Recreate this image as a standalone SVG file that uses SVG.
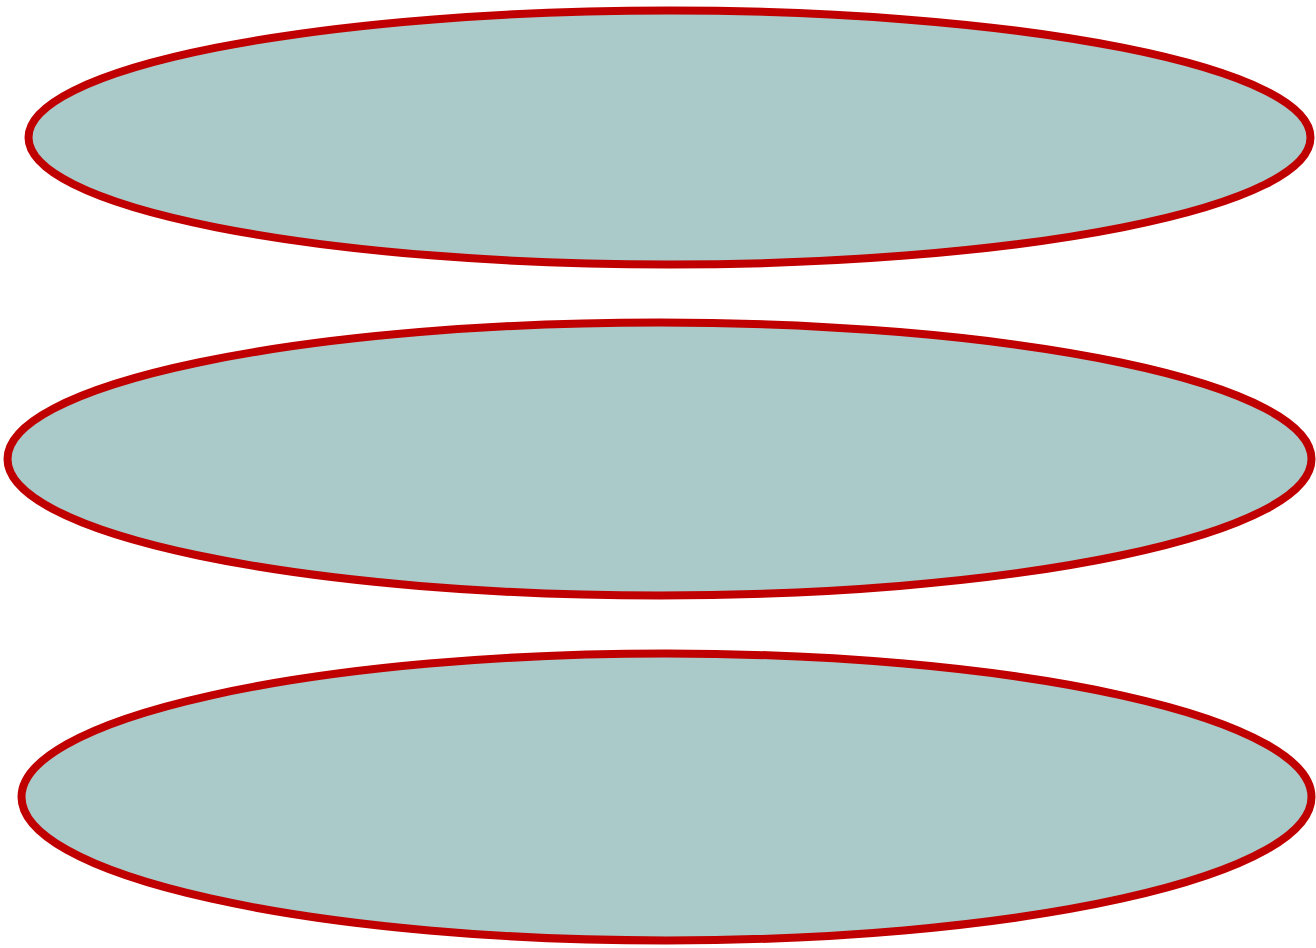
<svg xmlns="http://www.w3.org/2000/svg" width="1316" height="948" viewBox="0 0 1316 948">
<style>
.disc{fill:#aac9c9;stroke:#c00000;stroke-width:8;stroke-linejoin:round}
</style>
<rect width="1316" height="948" fill="#ffffff"/>
<g id="layer1"><ellipse class="disc" cx="669.5" cy="137.5" rx="641" ry="127"/></g>
<g id="layer2"><ellipse class="disc" cx="659.5" cy="459" rx="652" ry="136.5"/></g>
<g id="layer3"><ellipse class="disc" cx="666.5" cy="797" rx="645" ry="143.5"/></g>
</svg>
